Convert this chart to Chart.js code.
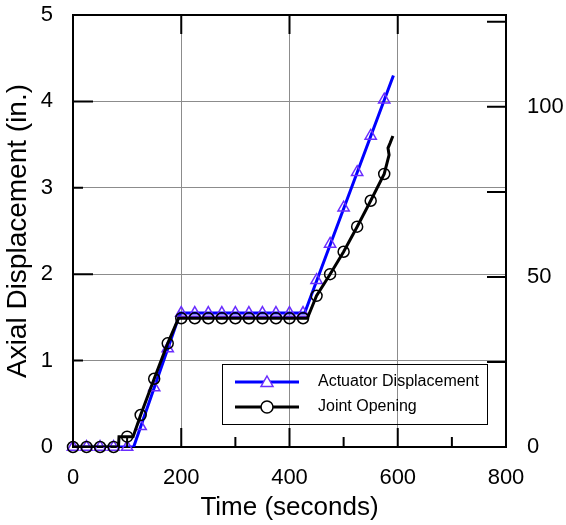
<!DOCTYPE html>
<html>
<head>
<meta charset="utf-8">
<script src="https://cdn.jsdelivr.net/npm/chart.js@4/dist/chart.umd.min.js"></script>
<style>
  html, body { margin: 0; padding: 0; background: #fff; }
  #wrap { width: 566px; height: 525px; }
</style>
</head>
<body>
<div id="wrap"><canvas id="chart"></canvas></div>
<script>
// ----- data -----
const actuatorLineTimes = [0, 112, 198, 428, 592];
const actuatorLineVals  = [0, 0, 1.55, 1.55, 4.30];

const jointLineTimes = [0, 84, 85, 111, 125, 150, 175, 195, 433, 450, 475, 500, 525, 550, 575, 584, 582, 586, 591];
const jointLineVals  = [0, 0, 0.12, 0.12, 0.37, 0.79, 1.20, 1.49, 1.49, 1.75, 2.00, 2.26, 2.55, 2.85, 3.16, 3.38, 3.46, 3.52, 3.60];

const markerTimes = [0, 25, 50, 75, 100, 125, 150, 175, 200, 225, 250, 275, 300, 325, 350, 375, 400, 425, 450, 475, 500, 525, 550, 575];
const actuatorMarkers = [0, 0, 0, 0, 0, 0.24, 0.69, 1.14, 1.55, 1.55, 1.55, 1.55, 1.55, 1.55, 1.55, 1.55, 1.55, 1.55, 1.93, 2.35, 2.77, 3.18, 3.60, 4.02];
const jointMarkers    = [0, 0, 0, 0, 0.12, 0.37, 0.79, 1.20, 1.49, 1.49, 1.49, 1.49, 1.49, 1.49, 1.49, 1.49, 1.49, 1.49, 1.75, 2.00, 2.26, 2.55, 2.85, 3.16];

const seriesNames = ['Actuator Displacement', 'Joint Opening'];

// axis ticks
const xTickValues  = [0, 100, 200, 300, 400, 500, 600, 700, 800];
const yTickValues  = [0, 1, 2, 3, 4, 5];
const y2TickValues = [0, 25, 50, 75, 100, 125];   // mm
const y2Max = 5 * 25.4;

const toPoints = (xs, ys) => xs.map((t, i) => ({ x: t, y: ys[i] }));

Chart.defaults.font.family = "'Liberation Sans', Arial, sans-serif";
Chart.defaults.color = '#000';

const BLUE = '#0000ff';
const TRI = '#6a2dff';
const GRID = '#8c8c8c';

// frame, inward tick marks and the boxed legend
const framePlugin = {
    id: 'frame',
    afterDraw(chart) {
        const { ctx, chartArea: a, scales } = chart;
        const { x, y, y2 } = scales;
        ctx.save();
        ctx.strokeStyle = '#000';
        ctx.lineWidth = 2;
        ctx.beginPath();
        ctx.moveTo(a.left - 1, a.top);
        ctx.lineTo(a.right + 1, a.top);
        ctx.stroke();

        ctx.beginPath();
        xTickValues.forEach(v => {
            const px = x.getPixelForValue(v);
            const len = v % 200 === 0 ? 19 : 10;
            ctx.moveTo(px, a.bottom);
            ctx.lineTo(px, a.bottom - len);
            if (v % 200 === 0 && v > 0 && v < 800) {
                ctx.moveTo(px, a.top);
                ctx.lineTo(px, a.top + 19);
            }
        });
        yTickValues.forEach(v => {
            const py = y.getPixelForValue(v);
            const len = v % 2 === 0 ? 20 : 10;
            ctx.moveTo(a.left, py);
            ctx.lineTo(a.left + len, py);
        });
        y2TickValues.forEach(v => {
            const py = y2.getPixelForValue(v);
            ctx.moveTo(a.right, py);
            ctx.lineTo(a.right - 19, py);
        });
        ctx.stroke();

        // legend
        const bx = a.left + 149, by = a.top + 349, bw = 265, bh = 60;
        ctx.lineWidth = 1;
        ctx.strokeRect(bx + 0.5, by + 0.5, bw, bh);

        const rows = [
            { y: by + 18, color: BLUE, marker: 'triangle' },
            { y: by + 43, color: '#000', marker: 'circle' }
        ];
        rows.forEach((r, i) => {
            ctx.strokeStyle = r.color;
            ctx.lineWidth = 3;
            ctx.beginPath();
            ctx.moveTo(bx + 13, r.y);
            ctx.lineTo(bx + 77, r.y);
            ctx.stroke();
            const cx = bx + 45;
            ctx.lineWidth = 1.5;
            ctx.beginPath();
            if (r.marker === 'triangle') {
                ctx.strokeStyle = TRI;
                ctx.fillStyle = '#fff';
                ctx.moveTo(cx, r.y - 6);
                ctx.lineTo(cx + 6, r.y + 4.5);
                ctx.lineTo(cx - 6, r.y + 4.5);
                ctx.closePath();
            } else {
                ctx.strokeStyle = '#000';
                ctx.fillStyle = '#fff';
                ctx.arc(cx, r.y, 6, 0, Math.PI * 2);
            }
            ctx.fill();
            ctx.stroke();
            ctx.fillStyle = '#000';
            ctx.font = "16px 'Liberation Sans', Arial, sans-serif";
            ctx.textBaseline = 'middle';
            ctx.textAlign = 'left';
            ctx.fillText(seriesNames[i], bx + 96, r.y);
        });
        ctx.restore();
    }
};

const edgeGrid = (lo, hi) => c => (c.tick && (c.tick.value === lo || c.tick.value === hi)) ? 'rgba(0,0,0,0)' : GRID;

new Chart(document.getElementById('chart'), {
    type: 'scatter',
    data: {
        datasets: [
            {
                label: seriesNames[0],
                data: toPoints(actuatorLineTimes, actuatorLineVals),
                showLine: true, borderColor: BLUE, borderWidth: 3,
                pointRadius: 0, yAxisID: 'y', order: 4
            },
            {
                label: seriesNames[0] + ' markers',
                data: toPoints(markerTimes, actuatorMarkers),
                showLine: false, pointStyle: 'triangle', pointRadius: 6.5,
                borderColor: TRI, backgroundColor: 'rgba(0,0,0,0)', borderWidth: 1.5,
                yAxisID: 'y', order: 3, clip: false
            },
            {
                label: seriesNames[1],
                data: toPoints(jointLineTimes, jointLineVals),
                showLine: true, borderColor: '#000', borderWidth: 3,
                pointRadius: 0, yAxisID: 'y', order: 2
            },
            {
                label: seriesNames[1] + ' markers',
                data: toPoints(markerTimes, jointMarkers),
                showLine: false, pointStyle: 'circle', pointRadius: 5.5,
                borderColor: '#000', backgroundColor: 'rgba(0,0,0,0)', borderWidth: 1.5,
                yAxisID: 'y', order: 1, clip: false
            }
        ]
    },
    options: {
        responsive: true,
        maintainAspectRatio: false,
        animation: false,
        layout: { padding: { top: 15, left: 0, right: 0, bottom: 0 } },
        plugins: { legend: { display: false }, tooltip: { enabled: false } },
        scales: {
            x: {
                type: 'linear', position: 'bottom', min: 0, max: 800,
                ticks: { stepSize: 200, padding: 18, maxRotation: 0, font: { size: 22 }, color: '#000' },
                grid: { color: edgeGrid(0, 800), lineWidth: 1, drawTicks: false },
                border: { color: '#000', width: 2 },
                title: { display: true, text: 'Time (seconds)', font: { size: 26 }, color: '#000', padding: { top: 0, bottom: 2 } },
                afterFit: s => { s.height = 78; s.paddingLeft = 0; s.paddingRight = 0; }
            },
            y: {
                type: 'linear', position: 'left', min: 0, max: 5,
                ticks: { stepSize: 1, padding: 20, font: { size: 22 }, color: '#000' },
                grid: { color: edgeGrid(0, 5), lineWidth: 1, drawTicks: false },
                border: { color: '#000', width: 2 },
                title: { display: true, text: 'Axial Displacement (in.)', font: { size: 28 }, color: '#000', padding: { top: 1, bottom: 0 } },
                afterFit: s => { s.width = 73; s.paddingTop = 0; s.paddingBottom = 0; }
            },
            y2: {
                type: 'linear', position: 'right', min: 0, max: y2Max,
                ticks: { stepSize: 25, padding: 21, font: { size: 22 }, color: '#000',
                         callback: v => (v % 50 === 0 ? v : '') },
                grid: { display: false, drawTicks: false },
                border: { color: '#000', width: 2 },
                afterFit: s => { s.width = 60; s.paddingTop = 0; s.paddingBottom = 0; }
            }
        }
    },
    plugins: [framePlugin]
});
</script>
</body>
</html>
